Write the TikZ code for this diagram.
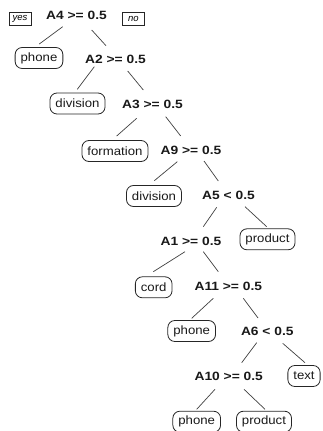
\documentclass[tikz,border=0pt]{standalone}
\usepackage{fontspec}
\setmainfont{Liberation Sans}
\usetikzlibrary{calc}
\tikzset{
  split/.style={font=\fontsize{12}{14}\selectfont\bfseries, inner sep=1pt, text=black!90},
  leaf/.style={draw=black!85, line width=0.8pt, rounded corners=7pt, font=\fontsize{12}{14}\selectfont,
    minimum height=21pt, inner xsep=5.5pt, inner ysep=2pt, text=black!90},
  tag/.style={draw=black!85, line width=0.7pt, font=\fontsize{9.5}{11}\selectfont\itshape,
    minimum width=22pt, minimum height=13pt, inner sep=1pt},
  edge/.style={draw=black!75, line width=0.7pt}
}
\newcommand{\SL}[1]{\scalebox{1.15}[1]{#1}}
\newcommand{\LL}[1]{\scalebox{1.1}[1]{#1}}
\begin{document}
\begin{tikzpicture}[x=1pt,y=-1pt]
\useasboundingbox (0,0) rectangle (322,431);
% tags
\node[tag] (yes) at (20,19) {yes};
\node[tag] (no) at (133.5,19) {no};
% splits
\node[split] (A4) at (76.5,15) {\SL{A4 >= 0.5}};
\node[split] (A2) at (115.5,59.5) {\SL{A2 >= 0.5}};
\node[split] (A3) at (152.5,104) {\SL{A3 >= 0.5}};
\node[split] (A9) at (191,150.7) {\SL{A9 >= 0.5}};
\node[split] (A5) at (228.5,195.7) {\SL{A5 < 0.5}};
\node[split] (A1) at (191,241.7) {\SL{A1 >= 0.5}};
\node[split] (A11) at (228.3,286) {\SL{A11 >= 0.5}};
\node[split] (A6) at (267.3,331) {\SL{A6 < 0.5}};
\node[split] (A10) at (228.7,376.7) {\SL{A10 >= 0.5}};
% leaves
\node[leaf] (L1) at (39,58) {\LL{phone}};
\node[leaf] (L2) at (77.5,103.5) {\LL{division}};
\node[leaf] (L3) at (115,151) {\LL{formation}};
\node[leaf] (L4) at (154,196) {\LL{division}};
\node[leaf] (L5) at (267.5,239.3) {\LL{product}};
\node[leaf] (L6) at (153.7,287.3) {\LL{cord}};
\node[leaf] (L7) at (191.7,331) {\LL{phone}};
\node[leaf] (L8) at (304,376) {\LL{text}};
\node[leaf] (L9) at (196.7,421.7) {\LL{phone}};
\node[leaf] (L10) at (264,421.7) {\LL{product}};
% edges
\draw[edge] ($(A4)+(-13.8,11.7)$) -- ($(L1)+(0.3,-14)$);
\draw[edge] ($(A4)+(15.2,15)$) -- ($(A2)+(-9.5,-13.8)$);
\draw[edge] ($(A2)+(-21.2,7.2)$) -- ($(L2)+(-0.2,-14.2)$);
\draw[edge] ($(A2)+(12.2,11.5)$) -- ($(A3)+(-9.2,-14)$);
\draw[edge] ($(A3)+(-15.8,14.3)$) -- ($(L3)+(1.7,-15)$);
\draw[edge] ($(A3)+(13.2,12.7)$) -- ($(A9)+(-10.3,-14.7)$);
\draw[edge] ($(A9)+(-13.7,11)$) -- ($(L4)+(0.3,-15.3)$);
\draw[edge] ($(A9)+(13,10.3)$) -- ($(A5)+(-10.2,-14.7)$);
\draw[edge] ($(A5)+(-11.8,11.6)$) -- ($(A1)+(12.3,-15)$);
\draw[edge] ($(A5)+(16.5,11)$) -- ($(L5)+(-0.8,-12.6)$);
\draw[edge] ($(A1)+(-6,10)$) -- ($(L6)+(-0.4,-15.6)$);
\draw[edge] ($(A1)+(12.3,10)$) -- ($(A11)+(-10,-14.3)$);
\draw[edge] ($(A11)+(-15,12.3)$) -- ($(L7)+(0,-12.7)$);
\draw[edge] ($(A11)+(15,12.3)$) -- ($(A6)+(-9.3,-13)$);
\draw[edge] ($(A6)+(-10.6,11.7)$) -- ($(A10)+(13,-14)$);
\draw[edge] ($(A6)+(15.4,12.3)$) -- ($(L8)+(1,-13.3)$);
\draw[edge] ($(A10)+(-13.7,12.6)$) -- ($(L9)+(0,-12.4)$);
\draw[edge] ($(A10)+(15.3,12.6)$) -- ($(L10)+(1,-12.4)$);
\end{tikzpicture}
\end{document}
